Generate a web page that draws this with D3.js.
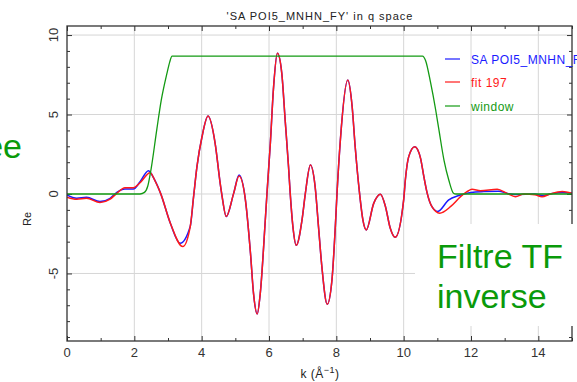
<!DOCTYPE html>
<html>
<head>
<meta charset="utf-8">
<script src="https://cdn.jsdelivr.net/npm/d3@7"></script>
<style>
  body { margin: 0; background: #fff; }
  svg { display: block; }
  text { font-family: "Liberation Sans", Arial, sans-serif; }
</style>
</head>
<body>
<div id="chart"></div>
<script>
const kData = [0.00, 0.29, 0.58, 0.98, 1.28, 1.48, 1.72, 1.97, 2.17, 2.42, 2.60, 2.78, 3.07, 3.36, 3.66, 3.76, 3.86, 4.01, 4.19, 4.40, 4.55, 4.60, 4.73, 4.95, 5.11, 5.30, 5.45, 5.54, 5.65, 5.74, 5.89, 5.94, 6.04, 6.13, 6.25, 6.38, 6.48, 6.58, 6.63, 6.71, 6.81, 6.98, 7.08, 7.23, 7.37, 7.47, 7.57, 7.73, 7.87, 7.97, 8.02, 8.12, 8.34, 8.47, 8.56, 8.69, 8.79, 8.89, 9.11, 9.31, 9.46, 9.60, 9.75, 10.00, 10.05, 10.15, 10.33, 10.50, 10.60, 10.70, 10.84, 11.01, 11.34, 11.64, 12.00, 12.38, 12.83, 13.07, 13.32, 13.90, 14.11, 14.35, 14.71, 15.00];
const reData = [-0.06, -0.27, -0.21, -0.48, -0.27, 0.10, 0.31, 0.31, 0.77, 1.47, 0.90, 0.04, -1.84, -3.10, -2.05, -0.17, 1.72, 3.60, 4.90, 3.19, 0.67, -0.05, -1.42, 0.04, 1.19, -0.38, -3.73, -6.25, -7.55, -6.27, -1.64, 0.04, 3.19, 6.55, 8.85, 7.59, 4.65, 1.72, 0.04, -2.05, -3.23, -1.64, 0.04, 1.82, 0.46, -2.05, -4.57, -6.94, -5.41, -2.05, 0.04, 3.40, 7.17, 5.49, 2.97, 0.04, -1.64, -2.26, -0.59, -0.02, -0.80, -2.14, -2.72, -0.37, 0.88, 2.35, 2.97, 2.26, 1.09, 0.04, -0.80, -1.10, -0.37, -0.10, 0.10, 0.15, 0.17, 0.04, -0.03, 0.00, -0.10, 0.00, 0.10, 0.05];

const kFit = [0.00, 0.29, 0.58, 0.98, 1.28, 1.48, 1.72, 1.97, 2.17, 2.47, 2.62, 2.78, 3.07, 3.44, 3.66, 3.76, 3.86, 4.01, 4.19, 4.40, 4.55, 4.60, 4.73, 4.95, 5.11, 5.30, 5.45, 5.54, 5.65, 5.74, 5.89, 5.94, 6.04, 6.13, 6.25, 6.38, 6.48, 6.58, 6.63, 6.71, 6.81, 6.98, 7.08, 7.23, 7.37, 7.47, 7.57, 7.73, 7.87, 7.97, 8.02, 8.12, 8.34, 8.47, 8.56, 8.69, 8.79, 8.89, 9.11, 9.31, 9.46, 9.60, 9.75, 10.00, 10.05, 10.15, 10.33, 10.50, 10.60, 10.70, 10.84, 11.07, 11.39, 11.69, 11.89, 12.03, 12.28, 12.78, 13.07, 13.32, 13.57, 13.90, 14.11, 14.35, 14.71, 15.00];
const reFit = [-0.20, -0.33, -0.27, -0.54, -0.33, 0.04, 0.40, 0.40, 0.71, 1.34, 0.80, 0.04, -1.84, -3.31, -2.05, -0.17, 1.72, 3.60, 4.90, 3.19, 0.67, -0.05, -1.42, 0.04, 1.13, -0.38, -3.73, -6.25, -7.55, -6.27, -1.64, 0.04, 3.19, 6.55, 8.85, 7.59, 4.65, 1.72, 0.04, -2.05, -3.23, -1.64, 0.04, 1.82, 0.46, -2.05, -4.57, -6.94, -5.41, -2.05, 0.04, 3.40, 7.17, 5.49, 2.97, 0.04, -1.64, -2.26, -0.59, -0.02, -0.80, -2.14, -2.72, -0.37, 0.88, 2.35, 2.97, 2.26, 1.09, 0.04, -0.80, -1.21, -0.80, -0.17, 0.16, 0.30, 0.21, 0.30, 0.04, -0.17, 0.00, -0.05, -0.17, 0.00, 0.15, 0.04];

const kWin = [0.00, 2.17, 2.30, 2.40, 2.50, 2.67, 2.80, 2.97, 3.05, 3.12, 10.56, 10.65, 10.80, 10.95, 11.05, 11.20, 11.34, 11.48, 11.55, 15.00];
const reWin = [0.00, 0.00, 0.10, 0.50, 1.60, 4.10, 5.90, 7.60, 8.30, 8.68, 8.68, 8.40, 7.00, 5.30, 4.00, 2.10, 0.88, 0.05, 0.00, 0.00];

const seriesNames = ["SA POI5_MNHN_FY", "fit 197", "window"];
const seriesColors = ["#1a1aff", "#ff1a1a", "#139a13"];

const xMajor = [0, 2, 4, 6, 8, 10, 12, 14];
const xMinor = [1, 3, 5, 7, 9, 11, 13, 15];
const yMajor = [-5, 0, 5, 10];
const yMinor = [-9, -8, -7, -6, -4, -3, -2, -1, 1, 2, 3, 4, 6, 7, 8, 9];

// set the dimensions and margins of the graph
const W = 577, H = 382;
const margin = {top: 26, right: 5, bottom: 41, left: 67},
    width = W - margin.left - margin.right,
    height = H - margin.top - margin.bottom;

const svg0 = d3.select("#chart")
    .append("svg")
    .attr("width", W)
    .attr("height", H);

const svg = svg0.append("g")
    .attr("transform", `translate(${margin.left},${margin.top})`);

const x = d3.scaleLinear().domain([0, 15]).range([0, width]);
const y = d3.scaleLinear().domain([-9.25, 10.57]).range([height, 0]);

// grid
svg.append("g").selectAll("line.gx")
    .data(xMajor.filter(d => d > 0))
    .join("line")
    .attr("x1", d => x(d)).attr("x2", d => x(d))
    .attr("y1", 0).attr("y2", height)
    .attr("stroke", "#d6d6d6").attr("stroke-width", 1);
svg.append("g").selectAll("line.gy")
    .data(yMajor)
    .join("line")
    .attr("x1", 0).attr("x2", width)
    .attr("y1", d => y(d)).attr("y2", d => y(d))
    .attr("stroke", "#d6d6d6").attr("stroke-width", 1);

// ticks, pointing inward on all four sides
function ticks(axis, vals, size, tx) {
    const g = svg.append("g")
        .attr("transform", tx)
        .call(axis.tickValues(vals).tickSize(-size).tickFormat(""));
    g.select(".domain").remove();
    g.selectAll("line").attr("stroke", "#333");
    return g;
}
ticks(d3.axisBottom(x), xMajor, 5, `translate(0,${height})`);
ticks(d3.axisBottom(x), xMinor, 3, `translate(0,${height})`);
ticks(d3.axisTop(x), xMajor, 5, "translate(0,0)");
ticks(d3.axisTop(x), xMinor, 3, "translate(0,0)");
ticks(d3.axisLeft(y), yMajor, 5, "translate(0,0)");
ticks(d3.axisLeft(y), yMinor, 3, "translate(0,0)");
ticks(d3.axisRight(y), yMajor, 5, `translate(${width},0)`);
ticks(d3.axisRight(y), yMinor, 3, `translate(${width},0)`);

// tick labels
svg.append("g").selectAll("text")
    .data(xMajor)
    .join("text")
    .attr("x", d => x(d))
    .attr("y", height + 16)
    .attr("text-anchor", "middle")
    .attr("font-size", 13)
    .attr("fill", "#333")
    .text(d => d);
svg.append("g").selectAll("text")
    .data(yMajor)
    .join("text")
    .attr("transform", d => `translate(-9,${y(d)}) rotate(-90)`)
    .attr("text-anchor", "middle")
    .attr("font-size", 13)
    .attr("fill", "#333")
    .text(d => d);

// lines
const clip = svg.append("clipPath").attr("id", "clip")
    .append("rect").attr("width", width).attr("height", height);
const line = d3.line()
    .x(d => x(d[0]))
    .y(d => y(d[1]))
    .curve(d3.curveMonotoneX);

const series = [
    d3.zip(kData, reData),
    d3.zip(kFit, reFit),
    d3.zip(kWin, reWin)
];
const plot = svg.append("g").attr("clip-path", "url(#clip)");
series.forEach((s, i) => {
    plot.append("path")
        .datum(s)
        .attr("d", line)
        .attr("fill", "none")
        .attr("stroke", seriesColors[i])
        .attr("stroke-width", i == 2 ? 1.3 : 1.5);
});

// frame
svg.append("rect")
    .attr("width", width).attr("height", height)
    .attr("fill", "none")
    .attr("stroke", "#333")
    .attr("stroke-width", 1.3);

// legend
const leg = svg.append("g").selectAll("g")
    .data(seriesNames)
    .join("g")
    .attr("transform", (d, i) => `translate(${445 - margin.left},${[59, 82, 106][i] - margin.top})`);
leg.append("line")
    .attr("x1", 0).attr("x2", 15)
    .attr("stroke", (d, i) => seriesColors[i])
    .attr("stroke-width", 1.2);
leg.append("text")
    .attr("x", 26).attr("y", 4.5)
    .attr("font-size", 12)
    .attr("letter-spacing", 0.5)
    .attr("fill", (d, i) => seriesColors[i])
    .text(d => d);

// titles
svg0.append("text")
    .attr("x", 320).attr("y", 20)
    .attr("text-anchor", "middle")
    .attr("font-size", 11)
    .attr("letter-spacing", 1)
    .attr("fill", "#222")
    .text("'SA POI5_MNHN_FY' in q space");

const xl = svg0.append("text")
    .attr("x", 320).attr("y", 378)
    .attr("text-anchor", "middle")
    .attr("font-size", 12)
    .attr("letter-spacing", 0.5)
    .attr("fill", "#222");
xl.append("tspan").text("k (\u00c5");
xl.append("tspan").attr("font-size", 9).attr("dy", -5).text("\u22121");
xl.append("tspan").attr("dy", 5).text(")");

svg0.append("text")
    .attr("transform", "translate(31,219) rotate(-90)")
    .attr("text-anchor", "middle")
    .attr("font-size", 11)
    .attr("fill", "#222")
    .text("Re");

// green annotation overlays
svg0.append("rect")
    .attr("x", 415).attr("y", 224)
    .attr("width", W - 415).attr("height", 102)
    .attr("fill", "#fff");
const ann = svg0.append("text")
    .attr("font-family", "DejaVu Sans, Verdana, sans-serif")
    .attr("font-size", 34)
    .attr("fill", "#0a9a0a");
ann.append("tspan").attr("x", 437).attr("y", 268).text("Filtre TF");
ann.append("tspan").attr("x", 437).attr("y", 308).text("inverse");

svg0.append("text")
    .attr("x", 22).attr("y", 158)
    .attr("text-anchor", "end")
    .attr("font-family", "DejaVu Sans, Verdana, sans-serif")
    .attr("font-size", 34)
    .attr("fill", "#0a9a0a")
    .text("ee");
</script>
</body>
</html>
